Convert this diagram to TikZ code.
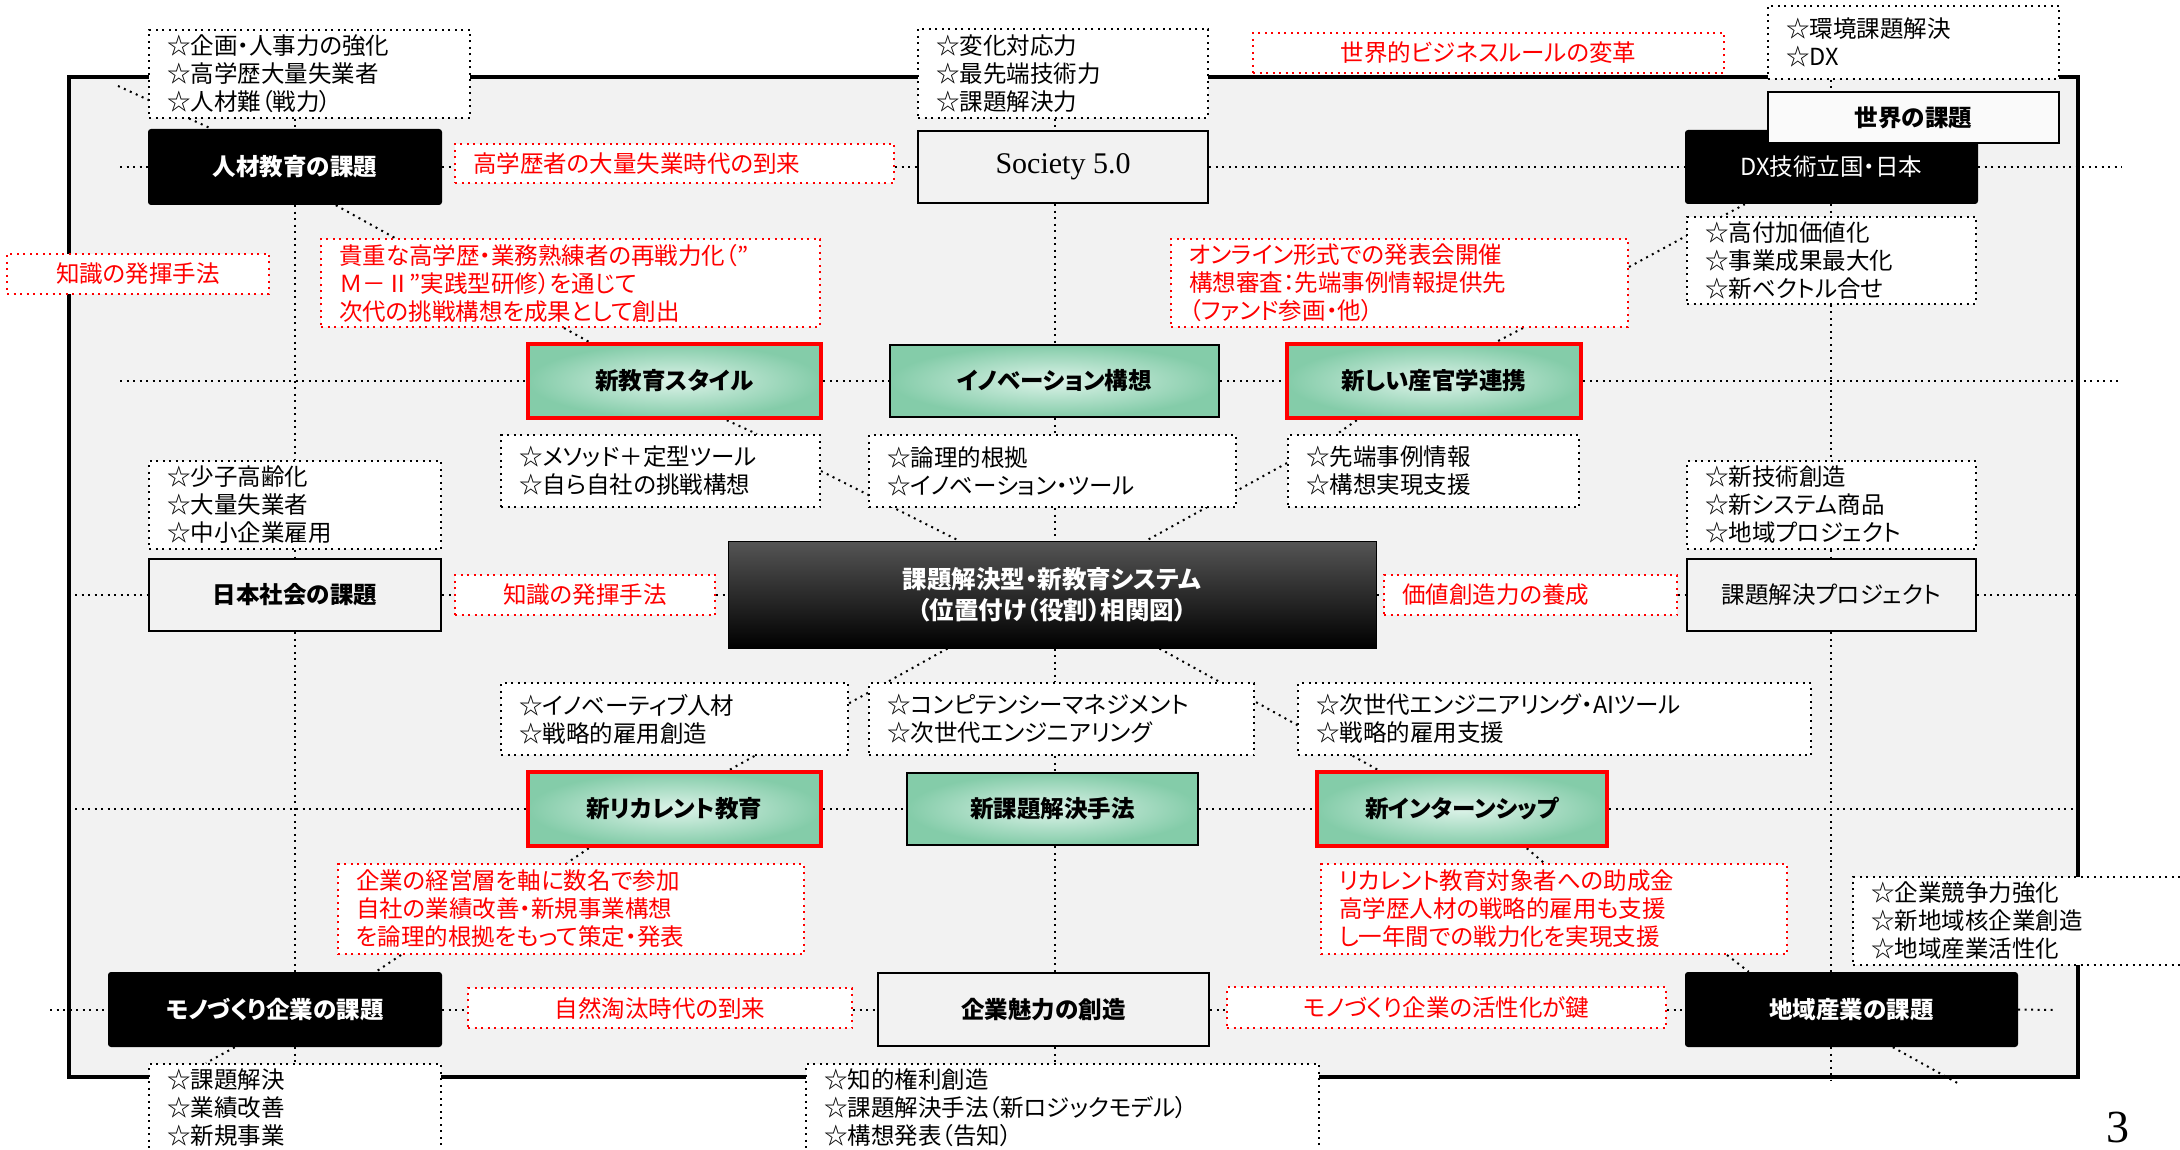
\documentclass[tikz,border=0pt]{standalone}
\usepackage{fontspec}
\setmainfont{Noto Sans CJK JP}[RawFeature=+palt]
\newfontfamily\latinserif{Liberation Serif}
\newcommand{\dfont}{\fontsize{23.5}{28}\selectfont}
\definecolor{bggray}{HTML}{F2F2F2}
\definecolor{greenc}{HTML}{DDF3E9}
\definecolor{greene}{HTML}{84CCA9}
\definecolor{darktop}{HTML}{555555}
\pgfdeclarelayer{framelayer}
\pgfdeclarelayer{linelayer}
\pgfsetlayers{framelayer,linelayer,main}
\tikzset{
  bx/.style n args={4}{at={({(#1+#3)/2},{(#2+#4)/2})}, minimum width={(#3-#1)*1pt}, minimum height={(#4-#2)*1pt}},
  dotline/.style={line width=2pt, dash pattern=on 2pt off 4.5pt},
  conn/.style={draw=black, dotline},
  lst/.style={draw=black, dotline, fill=white, align=left, inner xsep=18pt, inner ysep=0pt, text=black, font=\dfont},
  rbox/.style={draw=red, dotline, fill=white, text=red, inner xsep=18pt, inner ysep=0pt, font=\dfont},
  rboxl/.style={rbox, align=left},
  darkbox/.style={fill=black, rounded corners=3pt, text=white, font=\dfont\bfseries},
  graybox/.style={draw=black, line width=2.5pt, fill=bggray, text=black, font=\dfont\bfseries},
  greenbox/.style={draw=black, line width=2.5pt, inner color=greenc, outer color=greene, text=black, font=\dfont\bfseries},
  redgreen/.style={greenbox, draw=red, line width=4.5pt},
  centerbox/.style={draw=black, line width=1pt, top color=darktop, bottom color=black, text=white, align=center, font=\fontsize{24.5}{31}\selectfont\bfseries},
}
\begin{document}
\begin{tikzpicture}[x=1pt, y=-1pt]
\useasboundingbox (0,0) rectangle (2180,1150);

% ---------- nodes ----------
\node[lst, bx={149}{30}{470}{118}, text width=285pt] (lstJinzai) {☆企画・人事力の強化\\☆高学歴大量失業者\\☆人材難（戦力）};
\node[darkbox, bx={148}{129}{442}{205}] (kadaiJinzai) {人材教育の課題};
\node[rboxl, bx={455}{144}{894}{183}, text width=403pt] (rHigh) {高学歴者の大量失業時代の到来};
\node[rbox, bx={7}{254}{269}{294}] (rChishikiL) {知識の発揮手法};
\node[rboxl, bx={321}{239}{820}{327}, text width=463pt] (rKicho) {貴重な高学歴・業務熟練者の再戦力化（”\\Ｍ－Ⅱ”実践型研修）を通じて\\次代の挑戦構想を成果として創出};
\node[lst, bx={918}{29}{1208}{118}, text width=254pt] (lstSociety) {☆変化対応力\\☆最先端技術力\\☆課題解決力};
\node[graybox, bx={918}{131}{1208}{203}, font=\latinserif\fontsize{30}{34}\selectfont] (society) {Society 5.0};
\node[rbox, bx={1253}{33}{1724}{73}] (rSekai) {世界的ビジネスルールの変革};
\node[lst, bx={1768}{6}{2059}{79}, text width=255pt] (lstKankyo) {☆環境課題解決\\☆DX};
\node[darkbox, bx={1685}{130}{1978}{204}, font=\dfont] (dx) {DX技術立国・日本};
\node[graybox, fill=white!60!bggray, bx={1768}{92}{2059}{143}] (sekai) {世界の課題};
\node[lst, bx={1687}{217}{1976}{304}, text width=253pt] (lstDX) {☆高付加価値化\\☆事業成果最大化\\☆新ベクトル合せ};
\node[rboxl, bx={1171}{239}{1628}{327}, text width=421pt] (rOnline) {オンライン形式での発表会開催\\構想審査：先端事例情報提供先\\（ファンド参画・他）};

\node[redgreen, bx={528}{344}{821}{418}] (shinKyoiku) {新教育スタイル};
\node[greenbox, bx={890}{345}{1219}{417}] (innov) {イノベーション構想};
\node[redgreen, bx={1287}{344}{1581}{418}] (sankan) {新しい産官学連携};
\node[lst, bx={501}{435}{820}{507}, text width=283pt] (lstMethod) {☆メソッド＋定型ツール\\☆自ら自社の挑戦構想};
\node[lst, bx={869}{435}{1236}{507}, text width=331pt] (lstRonri) {☆論理的根拠\\☆イノベーション・ツール};
\node[lst, bx={1288}{435}{1579}{507}, text width=255pt] (lstSentan) {☆先端事例情報\\☆構想実現支援};

\node[lst, bx={149}{461}{441}{549}, text width=256pt] (lstShoshi) {☆少子高齢化\\☆大量失業者\\☆中小企業雇用};
\node[graybox, bx={149}{559}{441}{631}] (nihon) {日本社会の課題};
\node[rbox, bx={455}{575}{715}{615}] (rChishikiM) {知識の発揮手法};
\node[centerbox, bx={728}{541}{1376}{648}] (center) {課題解決型・新教育システム\\（位置付け（役割）相関図）};
\node[rboxl, bx={1384}{575}{1677}{615}, text width=257pt] (rKachi) {価値創造力の養成};
\node[lst, bx={1687}{461}{1976}{549}, text width=253pt] (lstShingijutsu) {☆新技術創造\\☆新システム商品\\☆地域プロジェクト};
\node[graybox, font=\dfont, bx={1687}{559}{1976}{631}] (project) {課題解決プロジェクト};

\node[lst, bx={501}{683}{848}{755}, text width=311pt] (lstInnovative) {☆イノベーティブ人材\\☆戦略的雇用創造};
\node[lst, bx={869}{683}{1254}{755}, text width=349pt] (lstCompetency) {☆コンピテンシーマネジメント\\☆次世代エンジニアリング};
\node[lst, bx={1298}{683}{1811}{755}, text width=477pt] (lstJisedai) {☆次世代エンジニアリング・AIツール\\☆戦略的雇用支援};
\node[redgreen, bx={528}{772}{821}{846}] (recurrent) {新リカレント教育};
\node[greenbox, bx={907}{773}{1198}{845}] (shinKadai) {新課題解決手法};
\node[redgreen, bx={1317}{772}{1607}{846}] (intern) {新インターンシップ};
\node[rboxl, bx={338}{864}{804}{954}, text width=430pt] (rKigyo) {企業の経営層を軸に数名で参加\\自社の業績改善・新規事業構想\\を論理的根拠をもって策定・発表};
\node[rboxl, bx={1321}{864}{1787}{954}, text width=430pt] (rRecurrent) {リカレント教育対象者への助成金\\高学歴人材の戦略的雇用も支援\\し一年間での戦力化を実現支援};
\node[lst, bx={1853}{877}{2200}{965}, text width=311pt] (lstKyoso) {☆企業競争力強化\\☆新地域核企業創造\\☆地域産業活性化};

\node[darkbox, bx={108}{972}{442}{1047}] (monozukuri) {モノづくり企業の課題};
\node[rbox, bx={468}{988}{852}{1028}] (rShizen) {自然淘汰時代の到来};
\node[graybox, bx={878}{973}{1209}{1046}] (miryoku) {企業魅力の創造};
\node[rbox, bx={1227}{987}{1666}{1028}] (rKasseika) {モノづくり企業の活性化が鍵};
\node[darkbox, bx={1685}{972}{2018}{1047}] (chiiki) {地域産業の課題};
\node[lst, bx={149}{1064}{441}{1152}, text width=256pt] (lstKaiketsu) {☆課題解決\\☆業績改善\\☆新規事業};
\node[lst, bx={806}{1064}{1319}{1152}, text width=477pt] (lstChiteki) {☆知的権利創造\\☆課題解決手法（新ロジックモデル）\\☆構想発表（告知）};
\node[font=\latinserif\fontsize{46}{50}\selectfont] (pagenum) at (2118,1127) {3};

% ---------- frame ----------
\begin{pgfonlayer}{framelayer}
\draw[line width=4pt, fill=bggray] (69,77) rectangle (2078,1077);
\end{pgfonlayer}

% ---------- connectors ----------
\begin{pgfonlayer}{linelayer}
\coordinate (colA) at (295,0);
\coordinate (colB) at (1055,0);
\coordinate (colC) at (1831,0);
\coordinate (L1) at (120,167);  \coordinate (R1) at (2122,167);
\coordinate (L2) at (120,381);  \coordinate (R2) at (2122,381);
\coordinate (L3) at (75,595);   \coordinate (R3) at (2078,595);
\coordinate (L4) at (75,809);   \coordinate (R4) at (2076,809);
\coordinate (L5) at (50,1010);  \coordinate (R5) at (2053,1010);
\coordinate (Cend) at (1831,1080);
\coordinate (D1s) at (118,86);
\coordinate (D17e) at (1961,1085);

% rows
\draw[conn] (L1) -- (L1 -| kadaiJinzai.west);
\draw[conn] (kadaiJinzai.east) -- (kadaiJinzai.east -| rHigh.west);
\draw[conn] (kadaiJinzai.east -| rHigh.east) -- (kadaiJinzai.east -| society.west);
\draw[conn] (society.east) -- (society.east -| dx.west);
\draw[conn] (society.east -| dx.east) -- (R1);

\draw[conn] (L2) -- (L2 -| shinKyoiku.west);
\draw[conn] (shinKyoiku.east) -- (shinKyoiku.east -| innov.west);
\draw[conn] (shinKyoiku.east -| innov.east) -- (shinKyoiku.east -| sankan.west);
\draw[conn] (sankan.east) -- (R2);

\draw[conn] (L3) -- (L3 -| nihon.west);
\draw[conn] (nihon.east) -- (nihon.east -| rChishikiM.west);
\draw[conn] (nihon.east -| rChishikiM.east) -- (nihon.east -| center.west);
\draw[conn] (nihon.east -| center.east) -- (nihon.east -| rKachi.west);
\draw[conn] (nihon.east -| rKachi.east) -- (nihon.east -| project.west);
\draw[conn] (nihon.east -| project.east) -- (R3);

\draw[conn] (L4) -- (L4 -| recurrent.west);
\draw[conn] (recurrent.east) -- (recurrent.east -| shinKadai.west);
\draw[conn] (recurrent.east -| shinKadai.east) -- (recurrent.east -| intern.west);
\draw[conn] (intern.east) -- (R4);

\draw[conn] (L5) -- (L5 -| monozukuri.west);
\draw[conn] (monozukuri.east) -- (monozukuri.east -| rShizen.west);
\draw[conn] (monozukuri.east -| rShizen.east) -- (monozukuri.east -| miryoku.west);
\draw[conn] (monozukuri.east -| miryoku.east) -- (monozukuri.east -| rKasseika.west);
\draw[conn] (monozukuri.east -| rKasseika.east) -- (monozukuri.east -| chiiki.west);
\draw[conn] (chiiki.east) -- (R5);

% columns
\draw[conn] (lstJinzai.south -| colA) -- (kadaiJinzai.north -| colA);
\draw[conn] (kadaiJinzai.south -| colA) -- (lstShoshi.north -| colA);
\draw[conn] (lstShoshi.south -| colA) -- (nihon.north -| colA);
\draw[conn] (nihon.south -| colA) -- (monozukuri.north -| colA);
\draw[conn] (monozukuri.south -| colA) -- (lstKaiketsu.north -| colA);

\draw[conn] (lstSociety.south -| colB) -- (society.north -| colB);
\draw[conn] (society.south -| colB) -- (innov.north -| colB);
\draw[conn] (innov.south -| colB) -- (lstRonri.north -| colB);
\draw[conn] (lstRonri.south -| colB) -- (center.north -| colB);
\draw[conn] (center.south -| colB) -- (lstCompetency.north -| colB);
\draw[conn] (lstCompetency.south -| colB) -- (shinKadai.north -| colB);
\draw[conn] (shinKadai.south -| colB) -- (miryoku.north -| colB);
\draw[conn] (miryoku.south -| colB) -- (lstChiteki.north -| colB);

\draw[conn] (lstKankyo.south -| colC) -- (sekai.north -| colC);
\draw[conn] (dx.south -| colC) -- (lstDX.north -| colC);
\draw[conn] (lstDX.south -| colC) -- (lstShingijutsu.north -| colC);
\draw[conn] (lstShingijutsu.south -| colC) -- (project.north -| colC);
\draw[conn] (project.south -| colC) -- (chiiki.north -| colC);
\draw[conn] (chiiki.south -| colC) -- (Cend);

% diagonals
\draw[conn] (D1s) -- (kadaiJinzai);
\draw[conn] ([xshift=188pt]kadaiJinzai.south west) -- ([xshift=75pt]rKicho.north west);
\draw[conn] ([xshift=244pt]rKicho.south west) -- ([xshift=63pt]shinKyoiku.north west);
\draw[conn] ([xshift=201pt]shinKyoiku.south west) -- ([xshift=257pt]lstMethod.north west);
\draw[conn] (lstMethod.east) -- ([xshift=231pt]center.north west);
\draw[conn] ([yshift=8pt]lstSentan.west) -- ([xshift=419pt]center.north west);
\draw[conn] ([xshift=72pt]sankan.south west) -- ([xshift=50pt]lstSentan.north west);
\draw[conn] ([xshift=353pt]rOnline.south west) -- ([xshift=212pt]sankan.north west);
\draw[conn] ([yshift=16pt]rOnline.east) -- ([xshift=60pt]dx.south west);
\draw[conn] ([xshift=220pt]center.south west) -- ([xshift=204pt]recurrent.north west);
\draw[conn] ([xshift=432pt]center.south west) -- ([xshift=63pt]intern.north west);
\draw[conn] ([xshift=63pt]recurrent.south west) -- ([xshift=230pt]rKigyo.north west);
\draw[conn] ([xshift=64pt]rKigyo.south west) -- ([xshift=268pt]monozukuri.north west);
\draw[conn] ([xshift=127pt]monozukuri.south west) -- ([xshift=58pt]lstKaiketsu.north west);
\draw[conn] ([xshift=212pt]intern.south west) -- ([xshift=224pt]rRecurrent.north west);
\draw[conn] ([xshift=407pt]rRecurrent.south west) -- ([xshift=64pt]chiiki.north west);
\draw[conn] ([xshift=208pt]chiiki.south west) -- (D17e);
\end{pgfonlayer}
\end{tikzpicture}
\end{document}
